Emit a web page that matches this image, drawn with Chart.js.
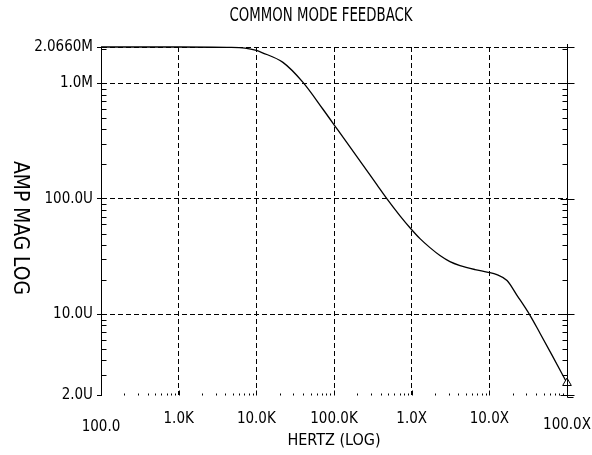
<!DOCTYPE html>
<html lang="en">
<head>
<meta charset="UTF-8">
<title>Common mode feedback</title>
<script src="https://cdn.jsdelivr.net/npm/chart.js"></script>
<style>
  body { margin: 0; background: #fff; }
  #box { width: 592px; height: 455px; }
</style>
</head>
<body>
<div id="box"><canvas id="cmfb"></canvas></div>
<script>
// values (hertz, amp magnitude)
const freqHz = [100, 1000, 4190, 7150, 10000, 11800, 22000, 39900, 72100, 112500,
                236000, 358000, 481000, 708000, 951000, 1.28e6, 1.72e6, 2.315e6, 3.11e6, 4.19e6,
                6.54e6, 9.33e6, 1.25e7, 1.69e7, 2.27e7, 3.34e7, 4.49e7, 6.41e7, 1e8];
const ampMag = [2.066e-3, 2.066e-3, 2.05e-3, 2.02e-3, 1.93e-3, 1.85e-3, 1.52e-3, 1.02e-3, 5.97e-4, 3.93e-4,
                1.96e-4, 1.32e-4, 1.0e-4, 7.13e-5, 5.62e-5, 4.52e-5, 3.78e-5, 3.23e-5, 2.86e-5, 2.645e-5,
                2.44e-5, 2.32e-5, 2.21e-5, 1.96e-5, 1.46e-5, 9.8e-6, 6.86e-6, 4.43e-6, 2.54e-6];

const xTickValues = [1e2, 1e3, 1e4, 1e5, 1e6, 1e7, 1e8];
const xTickLabels = ['100.0', '1.0K', '10.0K', '100.0K', '1.0X', '10.0X', '100.0X'];
const yTickValues = [2e-6, 1e-5, 1e-4, 1e-3, 2.066e-3];
const yTickLabels = ['2.0U', '10.0U', '100.0U', '1.0M', '2.0660M'];

const FONT = "'DejaVu Sans Condensed', 'Liberation Sans', sans-serif";

// 2..9 x 10^n between min and max
function minorValues(min, max) {
    const out = [];
    for (let e = Math.floor(Math.log10(min)); e <= Math.ceil(Math.log10(max)); e++) {
        for (let k = 2; k <= 9; k++) {
            const v = k * Math.pow(10, e);
            if (v > min * 1.001 && v < max * 0.999) out.push(v);
        }
    }
    return out;
}

// narrow text: squeeze the glyphs to a given width
function squeezedText(ctx, text, cx, cy, width, rot) {
    ctx.save();
    ctx.translate(cx, cy);
    ctx.rotate(rot);
    const w = ctx.measureText(text).width;
    ctx.scale(width / w, 1);
    ctx.fillText(text, 0, 0);
    ctx.restore();
}

// title, right border, inner tick marks and the vertical axis title
const frame = {
    id: 'frame',
    afterDraw(chart) {
        const {ctx, chartArea: a, scales: {x, y}} = chart;
        const R = Math.round(a.right) + 0.5;
        const L = Math.round(a.left) + 0.5;
        const B = Math.round(a.bottom) + 0.5;
        ctx.save();
        ctx.strokeStyle = '#000';
        ctx.lineWidth = 1;
        ctx.setLineDash([]);
        ctx.beginPath();
        ctx.moveTo(R, a.top - 3);
        ctx.lineTo(R, B + 2);
        ctx.lineTo(R + 6, B + 2);
        for (const v of minorValues(y.min, y.max)) {
            const py = Math.round(y.getPixelForValue(v)) + 0.5;
            ctx.moveTo(L, py); ctx.lineTo(L + 5, py);
            ctx.moveTo(R, py); ctx.lineTo(R - 5, py);
        }
        for (const v of yTickValues) {
            const py = Math.round(y.getPixelForValue(v)) + 0.5;
            ctx.moveTo(R - 7, py); ctx.lineTo(R + 7, py);
        }
        for (const v of minorValues(x.min, x.max)) {
            const px = Math.round(x.getPixelForValue(v)) + 0.5;
            ctx.moveTo(px, B); ctx.lineTo(px, B - 2);
        }
        for (const v of xTickValues) {
            const px = Math.round(x.getPixelForValue(v)) + 0.5;
            ctx.moveTo(px, B); ctx.lineTo(px, B - 5);
        }
        ctx.stroke();

        ctx.fillStyle = '#000';
        ctx.textAlign = 'center';
        ctx.textBaseline = 'middle';
        ctx.font = '19px ' + FONT;
        squeezedText(ctx, 'COMMON MODE FEEDBACK', 321, 16, 183, 0);
        ctx.font = '22px ' + FONT;
        squeezedText(ctx, 'AMP MAG LOG', 20, 228, 134, Math.PI / 2);
        ctx.restore();
    }
};

Chart.defaults.color = '#000';
Chart.defaults.font.family = FONT;

const ctx = document.getElementById('cmfb').getContext('2d');
new Chart(ctx, {
    type: 'line',
    data: {
        datasets: [{
            data: freqHz.map((f, i) => ({x: f, y: ampMag[i]})),
            borderColor: '#000',
            borderWidth: 1.3,
            cubicInterpolationMode: 'monotone',
            clip: 6,
            pointStyle: 'triangle',
            pointRadius: c => c.dataIndex === freqHz.length - 1 ? 5 : 0,
            pointBorderColor: '#000',
            pointBackgroundColor: '#fff',
            pointBorderWidth: 1
        }]
    },
    options: {
        responsive: true,
        maintainAspectRatio: false,
        animation: false,
        layout: { padding: { top: 47, right: 25 } },
        plugins: {
            legend: { display: false },
            tooltip: { enabled: false },
            title: { display: false }
        },
        scales: {
            x: {
                type: 'logarithmic',
                min: 100,
                max: 1e8,
                afterBuildTicks: s => { s.ticks = xTickValues.map(v => ({value: v})); },
                afterFit: s => { s.height = 60; s.paddingLeft = 0; s.paddingRight = 0; },
                ticks: {
                    autoSkip: false,
                    maxRotation: 0,
                    padding: 15,
                    font: c => {
                        const end = c.index === 0 || c.index === xTickValues.length - 1;
                        return { size: 15, lineHeight: end ? (c.index === 0 ? '11.7px' : '10.4px') : 1.2 };
                    },
                    callback: (v, i) => {
                        const end = i === 0 || i === xTickValues.length - 1;
                        return end ? ['', xTickLabels[i]] : xTickLabels[i];
                    }
                },
                grid: { color: '#000', lineWidth: 1, drawTicks: false },
                border: { display: false, dash: [5, 3] },
                title: {
                    display: true,
                    text: 'HERTZ (LOG)',
                    font: { size: 16 },
                    padding: { top: 0, bottom: 5 }
                }
            },
            y: {
                type: 'logarithmic',
                min: 2e-6,
                max: 2.066e-3,
                afterBuildTicks: s => { s.ticks = yTickValues.map(v => ({value: v})); },
                afterFit: s => { s.width = 101; s.paddingTop = 0; s.paddingBottom = 0; },
                ticks: {
                    autoSkip: false,
                    padding: 4,
                    font: { size: 15 },
                    callback: (v, i) => yTickLabels[i]
                },
                grid: {
                    color: c => (c.tick && c.tick.value === 2e-6) ? 'rgba(0,0,0,0)' : '#000',
                    lineWidth: 1,
                    tickColor: '#000',
                    tickLength: 4
                },
                border: { display: true, color: '#000', width: 1, dash: [5, 3] }
            }
        }
    },
    plugins: [frame]
});
</script>
</body>
</html>
